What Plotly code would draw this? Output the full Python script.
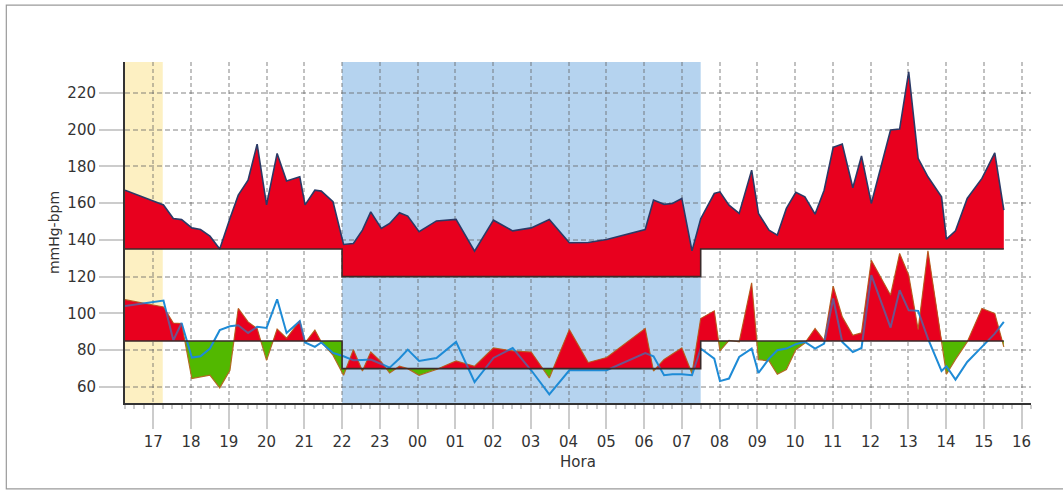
import plotly.graph_objects as go

# Measurement times in hours from the start of day 1 (24.0 = 00:00 of day 2)
hora = [16.25, 17.27, 17.53, 17.75, 18.02, 18.25, 18.5, 18.76, 19.03, 19.25, 19.51, 19.75,
        20.0, 20.28, 20.53, 20.88, 21.02, 21.28, 21.45, 21.76, 22.04, 22.3,
        22.54, 22.76, 23.04, 23.26, 23.52, 23.74, 24.04, 24.5, 25.02, 25.51, 26.01, 26.52,
        27.01, 27.49, 28.02, 28.52, 29.01, 30.03, 30.25, 30.53, 30.75, 31.0, 31.27, 31.5,
        31.86, 32.01, 32.25, 32.52, 32.85, 33.03, 33.31, 33.53, 33.77, 34.02, 34.26, 34.53,
        34.77, 35.01, 35.25, 35.53, 35.76, 36.02, 36.53, 36.77, 37.01, 37.26, 37.52, 37.88,
        38.01, 38.25, 38.56, 38.95, 39.29, 39.53]

sistolica = [167, 159, 151.6, 151, 146.5, 145.6, 142, 135, 151.6, 164.3, 172.5, 192,
             159, 187, 172, 174.3, 159, 167, 166.5, 160.7, 137.5, 138,
             145.3, 155.2, 146.2, 148.9, 154.7, 152.9, 144.4, 150.3, 151.1, 133.8, 150.7, 144.9,
             146.5, 151.1, 138.4, 138.6, 140.2, 145.6, 161.6, 159.3, 159.8, 162.5, 134, 151.5,
             165.2, 166.1, 158.9, 154.4, 177.9, 154.4, 145.3, 142.6, 157.1, 165.8, 163.4, 154,
             167, 190.3, 192.1, 168.3, 185.6, 159.8, 199.7, 200.2, 231.4, 184.3, 174.3, 163.4,
             140.4, 144.9, 162.5, 173.4, 187.3, 156.2]

diastolica = [107.5, 103.5, 94.8, 94.5, 64.6, 65.5, 66.4, 59.5, 69.1, 102.7, 95.4, 91.8,
              74.5, 91.5, 86.5, 96, 84, 90.9, 84.5, 77.3, 66.4, 80.3,
              68.7, 79, 73.6, 67.6, 71.3, 70, 66.4, 69.5, 74.2, 71.3, 81.2, 79.6,
              79, 64.9, 91.2, 73.3, 76, 91.8, 68.7, 75, 78, 81.2, 67.3, 97.2,
              101.4, 79.6, 85.4, 84.5, 116.6, 74.9, 74.2, 66.9, 69.5, 80.3, 83.9, 91.8,
              85.4, 114.8, 98.1, 88.1, 89.4, 128.9, 109.9, 132.6, 120.8, 91.2, 134, 86,
              66.9, 75, 84.5, 102.7, 100, 81.8]

frecuencia = [104, 107, 85.4, 94.8, 76, 76.7, 80.9, 90.9, 93, 93.6, 89.4, 92.7,
              92.1, 107.7, 89.4, 95.8, 84.2, 81.8, 84.2, 78.5, 76.7, 74.5,
              74.7, 74.9, 72.5, 70.5, 75.5, 80.3, 74.2, 75.8, 84.5, 62.7, 75.8, 81.2,
              69.1, 56, 69.1, 69.1, 69.1, 78.5, 76.7, 66.4, 66.9, 66.9, 66.4, 80.9,
              75.4, 63.2, 64.6, 76.3, 80.9, 67.6, 75.4, 80, 80.9, 83.3, 84.5, 80.9,
              83.6, 108.1, 84.5, 79, 81.2, 120.8, 92.3, 112.6, 101.7, 101.4, 86.3, 68.7,
              71.3, 64, 73.6, 81.8, 89, 95.4]

# Periods and limits
inicio, fin_registro = 16.25, 40.25
periodo_oficina = (16.25, 17.25)
periodo_noche = (22.0, 31.5)
limite_sis = {"dia": 135, "noche": 120}
limite_dia = {"dia": 85, "noche": 70}

tick_vals = list(range(17, 41))
tick_text = [f"{h % 24:02d}" if h >= 24 else str(h) for h in tick_vals]

ROJO = "#E8001E"
VERDE = "#52B800"
AZUL = "#1E8BD6"
REJILLA = "rgba(100,100,100,0.40)"


def limite(t, lim):
    return lim["noche"] if periodo_noche[0] <= t < periodo_noche[1] else lim["dia"]


def escalon(lim, t0, t1):
    n0, n1 = periodo_noche
    xs = [t0, n0, n0, n1, n1, t1]
    ys = [lim["dia"], lim["dia"], lim["noche"], lim["noche"], lim["dia"], lim["dia"]]
    return xs, ys


def bandas(ts, vs, lim):
    """Split a curve against a stepped limit: returns x, limit, upper and lower paths."""
    pts = sorted(set(ts) | {t for t in periodo_noche if ts[0] < t < ts[-1]})

    def val(t):
        for i in range(len(ts) - 1):
            if ts[i] <= t <= ts[i + 1]:
                f = (t - ts[i]) / (ts[i + 1] - ts[i])
                return vs[i] + f * (vs[i + 1] - vs[i])
        return vs[-1]

    X, L, U, D = [], [], [], []

    def add(t, c, thr):
        X.append(t)
        L.append(thr)
        U.append(max(c, thr))
        D.append(min(c, thr))

    for a, b in zip(pts[:-1], pts[1:]):
        thr = limite((a + b) / 2, lim)
        ca, cb = val(a), val(b)
        add(a, ca, thr)
        if (ca - thr) * (cb - thr) < 0:
            tc = a + (thr - ca) / (cb - ca) * (b - a)
            add(tc, thr, thr)
        add(b, cb, thr)
    return X, L, U, D


fig = go.Figure()

# Stepped limit + systolic area
sx, sy = escalon(limite_sis, hora[0], hora[-1])
fig.add_trace(go.Scatter(x=sx, y=sy, mode="lines", line=dict(width=0), hoverinfo="skip"))
fig.add_trace(go.Scatter(x=hora, y=sistolica, mode="lines", fill="tonexty", fillcolor=ROJO,
                         line=dict(color="#2B3A66", width=1.6), name="Sistólica"))

# Diastolic area: red above the limit, green below
dx, dl, du, dd = bandas(hora, diastolica, limite_dia)
fig.add_trace(go.Scatter(x=dx, y=dl, mode="lines", line=dict(width=0), hoverinfo="skip"))
fig.add_trace(go.Scatter(x=dx, y=du, mode="lines", fill="tonexty", fillcolor=ROJO,
                         line=dict(width=0), hoverinfo="skip"))
fig.add_trace(go.Scatter(x=dx, y=dl, mode="lines", line=dict(width=0), hoverinfo="skip"))
fig.add_trace(go.Scatter(x=dx, y=dd, mode="lines", fill="tonexty", fillcolor=VERDE,
                         line=dict(width=0), hoverinfo="skip"))
fig.add_trace(go.Scatter(x=hora, y=diastolica, mode="lines",
                         line=dict(color="#B26A22", width=1.2), name="Diastólica"))

# Heart rate
fig.add_trace(go.Scatter(x=hora, y=frecuencia, mode="lines",
                         line=dict(color=AZUL, width=2), name="Frecuencia"))

# Translucent red veil over the diastolic excess, tinting the line beneath it
fig.add_trace(go.Scatter(x=dx, y=dl, mode="lines", line=dict(width=0), hoverinfo="skip"))
fig.add_trace(go.Scatter(x=dx, y=du, mode="lines", fill="tonexty",
                         fillcolor="rgba(232,0,30,0.40)", line=dict(width=0), hoverinfo="skip"))

# Limit lines on top
ex, ey = escalon(limite_sis, hora[0], hora[-1])
fig.add_trace(go.Scatter(x=ex, y=ey, mode="lines", line=dict(color="#3A2A2A", width=1.6),
                         hoverinfo="skip"))
ex, ey = escalon(limite_dia, hora[0], hora[-1])
fig.add_trace(go.Scatter(x=ex, y=ey, mode="lines", line=dict(color="#3A2A2A", width=1.6),
                         hoverinfo="skip"))

shapes = [
    dict(type="rect", xref="x", yref="paper", x0=periodo_oficina[0], x1=periodo_oficina[1],
         y0=0, y1=1, fillcolor="#FDF0C2", line=dict(width=0), layer="below"),
    dict(type="rect", xref="x", yref="paper", x0=periodo_noche[0], x1=periodo_noche[1],
         y0=0, y1=1, fillcolor="#B5D3EF", line=dict(width=0), layer="below"),
    # outer frame
    dict(type="rect", xref="paper", yref="paper", x0=-0.131, x1=1.05, y0=-0.252, y1=1.167,
         line=dict(color="#9A9A9A", width=1.2), fillcolor="rgba(0,0,0,0)", layer="below"),
]

fuente = dict(family="DejaVu Sans, Verdana, sans-serif", size=15, color="#333333")

fig.update_layout(
    width=1063, height=493,
    margin=dict(l=125, r=32, t=62, b=90),
    paper_bgcolor="white", plot_bgcolor="white",
    showlegend=False,
    shapes=shapes,
    font=fuente,
    xaxis=dict(
        range=[inicio, fin_registro], tickvals=tick_vals, ticktext=tick_text,
        showgrid=True, gridcolor=REJILLA, gridwidth=1.5, griddash="4px,3px",
        ticks="outside", ticklen=24, tickwidth=2, tickcolor="#CCCCCC",
        showline=True, linecolor="#333333", linewidth=2,
        minor=dict(dtick=0.25, ticks="outside", ticklen=4, tickwidth=2, tickcolor="#CCCCCC",
                   showgrid=False),
        title=dict(text="Hora", font=dict(size=15, color="#333333"), standoff=6),
        zeroline=False, tickfont=dict(size=15, color="#333333"),
    ),
    yaxis=dict(
        range=[51.3, 236.7], tickvals=[60, 80, 100, 120, 140, 160, 180, 200, 220],
        showgrid=True, gridcolor=REJILLA, gridwidth=1.5, griddash="5px,3px",
        ticks="outside", ticklen=24, tickwidth=2, tickcolor="#CCCCCC",
        showline=True, linecolor="#333333", linewidth=2,
        title=dict(text="mmHg-bpm", font=dict(size=14, color="#333333"), standoff=4),
        zeroline=False, tickfont=dict(size=15, color="#333333"),
    ),
)

fig.write_html("out.html")
